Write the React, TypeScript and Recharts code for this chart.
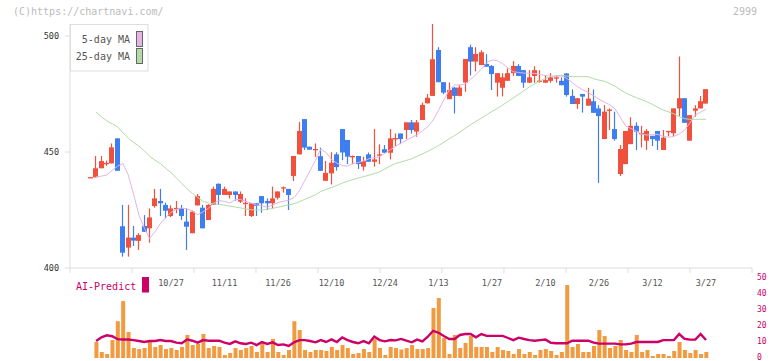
import React from 'react';
import { ComposedChart, Bar, Line, XAxis, YAxis } from 'recharts';

const DATES = [
  '10/3','10/6','10/7','10/8','10/9','10/10','10/14','10/15','10/16','10/17',
  '10/20','10/21','10/22','10/23','10/24','10/27','10/28','10/29','10/30','10/31',
  '11/4','11/5','11/6','11/7','11/10','11/11','11/12','11/13','11/14','11/17',
  '11/18','11/19','11/20','11/21','11/25','11/26','11/27','11/28','12/1','12/2',
  '12/3','12/4','12/5','12/8','12/9','12/10','12/11','12/12','12/15','12/16',
  '12/17','12/18','12/19','12/22','12/23','12/24','12/25','12/26','12/29','12/30',
  '1/5','1/6','1/7','1/8','1/9','1/13','1/14','1/15','1/16','1/19',
  '1/20','1/21','1/22','1/23','1/26','1/27','1/28','1/29','1/30','2/2',
  '2/3','2/4','2/5','2/6','2/9','2/10','2/12','2/13','2/16','2/17',
  '2/18','2/19','2/20','2/24','2/25','2/26','2/27','3/2','3/3','3/4',
  '3/5','3/6','3/9','3/10','3/11','3/12','3/13','3/16','3/17','3/18',
  '3/19','3/23','3/24','3/25','3/26','3/27',
];

const OPEN = [
  439.0, 439.1, 443.0, 445.0, 445.1, 455.9, 418.0, 408.8, 413.1, 411.7,
  418.1, 417.1, 426.7, 428.9, 427.2, 422.4, 425.5, 425.7, 420.0, 415.0,
  427.0, 426.0, 420.7, 427.2, 436.3, 431.5, 431.5, 433.0, 428.6, 427.9,
  422.4, 427.9, 431.0, 428.9, 427.9, 430.3, 434.5, 434.1, 439.7, 449.0,
  464.2, 452.3, 451.0, 448.2, 437.6, 440.8, 449.0, 459.9, 455.2, 448.0,
  448.3, 443.7, 449.0, 445.8, 448.7, 451.2, 449.7, 455.7, 458.0, 459.5,
  462.8, 458.8, 463.8, 471.0, 474.2, 494.0, 480.1, 472.8, 477.8, 474.2,
  480.0, 495.2, 489.0, 487.5, 488.0, 487.1, 479.9, 477.7, 480.7, 484.0,
  487.1, 485.3, 479.9, 482.8, 480.6, 479.9, 480.7, 482.0, 480.7, 483.9,
  474.2, 470.7, 475.0, 470.0, 471.9, 468.8, 455.6, 468.0, 459.9, 440.5,
  444.8, 453.4, 461.3, 458.0, 454.9, 457.0, 459.1, 450.9, 459.0, 458.1,
  468.8, 473.2, 454.9, 467.8, 468.8, 470.9,
];
const HIGH = [
  439.3, 448.3, 448.3, 446.3, 453.7, 455.9, 427.2, 427.2, 418.1, 415.0,
  422.8, 425.7, 434.1, 434.1, 428.2, 427.0, 428.9, 427.2, 425.7, 424.8,
  431.9, 427.2, 427.5, 435.1, 436.5, 435.1, 433.0, 433.0, 433.0, 430.0,
  428.0, 428.0, 431.0, 430.0, 435.1, 433.0, 435.1, 434.1, 448.3, 463.0,
  464.2, 452.3, 453.7, 451.9, 446.1, 449.9, 449.9, 459.9, 455.2, 448.5,
  448.3, 448.0, 449.8, 459.9, 453.3, 453.0, 459.9, 458.0, 458.0, 462.8,
  463.8, 463.8, 471.3, 475.0, 505.2, 495.2, 480.1, 480.0, 478.0, 479.0,
  490.1, 496.3, 495.2, 493.9, 492.2, 487.5, 484.0, 484.0, 486.0, 489.2,
  487.9, 485.3, 485.3, 487.0, 485.3, 483.0, 484.0, 483.0, 482.2, 483.9,
  477.0, 473.2, 475.0, 477.7, 477.0, 470.2, 470.2, 468.8, 467.4, 453.0,
  459.1, 465.0, 462.8, 461.3, 459.9, 457.0, 459.1, 459.5, 459.1, 468.8,
  491.2, 473.2, 465.9, 470.2, 474.1, 477.1,
];
const LOW = [
  439.0, 439.1, 443.0, 444.0, 445.1, 441.9, 404.9, 404.9, 409.5, 407.8,
  415.6, 410.9, 426.0, 422.4, 421.4, 422.0, 423.6, 420.7, 407.8, 415.0,
  427.0, 417.1, 420.7, 427.2, 427.2, 431.5, 430.0, 429.0, 428.0, 422.4,
  422.0, 422.4, 423.8, 425.0, 425.7, 429.5, 432.5, 425.0, 437.5, 449.0,
  450.9, 451.0, 447.9, 441.9, 437.6, 436.0, 442.0, 446.5, 444.8, 444.8,
  442.7, 442.0, 445.8, 443.7, 444.8, 449.7, 446.8, 452.6, 453.4, 455.6,
  458.0, 456.6, 463.8, 471.0, 474.2, 480.1, 475.0, 472.8, 466.6, 474.0,
  476.0, 483.0, 484.8, 487.5, 486.8, 476.7, 473.9, 474.0, 480.7, 482.8,
  482.8, 477.7, 479.9, 479.9, 479.9, 479.9, 479.9, 479.9, 478.8, 473.9,
  470.7, 468.6, 467.0, 470.0, 466.9, 436.7, 455.6, 459.5, 454.9, 439.7,
  444.8, 453.4, 450.9, 452.0, 450.9, 452.6, 450.9, 450.9, 456.8, 456.7,
  465.5, 462.6, 454.9, 465.2, 468.8, 470.9,
];
const CLOSE = [
  439.2, 443.0, 446.1, 445.3, 452.0, 441.9, 406.6, 413.1, 411.8, 414.2,
  415.6, 421.8, 430.0, 427.9, 424.7, 425.7, 425.9, 422.4, 417.8, 424.3,
  431.0, 417.1, 427.2, 434.1, 431.5, 434.1, 433.0, 431.5, 431.9, 428.1,
  427.9, 426.8, 427.9, 427.9, 430.0, 433.0, 434.8, 431.5, 448.3, 459.1,
  451.9, 451.0, 451.3, 441.9, 441.0, 445.4, 443.5, 449.8, 448.0, 448.3,
  444.8, 446.1, 445.8, 446.8, 449.0, 449.7, 455.9, 456.0, 455.6, 462.8,
  459.5, 462.8, 470.3, 473.4, 490.0, 480.1, 475.6, 476.8, 474.2, 477.8,
  490.1, 489.0, 492.3, 493.0, 486.8, 483.6, 484.0, 482.2, 484.0, 487.1,
  482.8, 479.9, 482.2, 485.3, 480.8, 481.0, 482.2, 482.2, 478.8, 474.6,
  470.7, 473.2, 473.9, 473.0, 466.9, 465.5, 467.4, 468.3, 455.6, 451.3,
  459.1, 461.3, 458.8, 458.2, 459.1, 455.6, 454.9, 456.2, 459.1, 468.8,
  473.2, 462.6, 465.9, 468.8, 471.9, 477.1,
];

const MA5 = [
  null, 439.3, 439.6, 440.1, 442.1, 443.9, 445.1, 440.2, 431.8, 422.9,
  417.2, 412.7, 415.6, 419.1, 421.7, 424.0, 425.3, 425.9, 425.5, 424.5,
  423.0, 424.2, 425.8, 428.0, 429.1, 428.7, 428.0, 429.5, 429.5, 428.7,
  428.0, 427.2, 426.7, 426.3, 427.1, 428.2, 428.8, 429.2, 430.4, 433.2,
  437.7, 442.0, 446.4, 451.3, 449.8, 446.7, 445.2, 444.2, 443.9, 445.0,
  445.5, 446.1, 447.1, 447.6, 448.0, 449.5, 451.0, 452.5, 453.9, 455.1,
  456.3, 457.4, 459.1, 460.9, 463.8, 468.0, 472.5, 476.7, 478.9, 478.9,
  479.4, 481.3, 483.4, 485.7, 488.5, 489.7, 489.4, 488.1, 486.3, 484.6,
  484.3, 484.0, 484.0, 483.9, 483.4, 483.0, 482.7, 482.6, 482.8, 481.7,
  479.9, 478.2, 476.8, 475.7, 474.2, 472.7, 471.5, 470.4, 468.6, 464.9,
  461.2, 460.1, 459.0, 457.8, 457.3, 457.6, 457.6, 456.8, 456.4, 456.7,
  457.8, 459.5, 462.5, 466.0, 467.2, 468.5,
];
const MA25 = [
  null, 467.2, 465.1, 463.4, 462.2, 460.9, 458.3, 456.0, 454.1, 452.6,
  450.5, 448.2, 446.5, 445.0, 443.0, 441.1, 438.8, 436.5, 434.1, 432.1,
  430.4, 428.7, 428.1, 427.6, 427.4, 427.1, 426.7, 426.3, 425.9, 425.5,
  425.1, 425.0, 425.0, 425.3, 425.7, 426.2, 426.7, 427.2, 427.7, 428.6,
  429.6, 430.5, 431.6, 433.0, 433.9, 434.7, 435.6, 436.6, 437.4, 438.1,
  438.8, 439.4, 440.0, 440.7, 441.5, 442.7, 444.0, 445.1, 445.7, 446.4,
  447.1, 448.2, 449.2, 450.3, 451.5, 452.8, 454.2, 455.7, 457.1, 458.6,
  460.2, 461.8, 463.2, 464.6, 466.1, 467.5, 468.8, 470.3, 471.8, 473.4,
  474.9, 476.5, 478.1, 479.4, 480.7, 481.7, 482.6, 482.9, 483.1, 482.7,
  482.5, 482.5, 482.5, 482.5, 481.6, 481.0, 480.5, 479.5, 478.4, 476.8,
  475.5, 474.4, 473.4, 472.6, 471.6, 470.5, 469.3, 468.1, 467.3, 466.5,
  465.2, 464.4, 464.1, 464.1, 464.1, 464.1,
];

const VOLUME = [
  null, 10, 3.75, 2.5, 11.25, 23, 35.6, 16.25, 6.25, 5.6,
  6.25, 10, 6.9, 8.1, 5.6, 6.25, 5, 6.9, 14.4, 8.1,
  8.75, 15, 6.25, 7.5, 6.9, 1.9, 3.1, 6.25, 5, 6.25,
  7.5, 3.75, 9.4, 3.75, 11.9, 3.75, 1.9, 5, 23, 17.5,
  5, 3.75, 5, 5, 4.4, 6.9, 5, 8.1, 6.25, 2.5,
  3.1, 5.6, 3.75, 11.9, 6.25, 1.9, 6.9, 6.25, 5.3, 6.2,
  8.1, 5.6, 5.6, 6.25, 31.25, 37.5, 12.5, 2.5, 14.4, 6.25,
  9.4, 13.75, 6.9, 6.9, 6.9, 3.75, 6.9, 5, 4.4, 2.5,
  5.6, 2.5, 3.75, 1.9, 5, 5.6, 4.4, 1.9, 3.75, 45.6,
  6.9, 8.75, 3.75, 3.75, 7.5, 17.5, 13.75, 6.25, 7.5, 11.25,
  5, 3.75, 14.4, 3.75, 5, 1.25, 2.5, 2.5, 1.25, 4.4,
  10, 5, 3.1, 5, 2.5, 3.75,
];
const AI = [
  null, 10.6, 12.9, 14.2, 13.6, 11.8, 11.6, 11.6, 11.2, 10.6,
  10.0, 10.6, 10.6, 11.2, 10.6, 10.6, 9.6, 9.2, 11.6, 10.8,
  9.6, 11.2, 10.8, 10.8, 10.8, 9.6, 8.8, 10.4, 9.2, 8.8,
  9.6, 8.1, 10.0, 8.8, 9.8, 8.1, 8.5, 7.5, 9.8, 11.2,
  11.2, 10.6, 9.8, 11.2, 10.0, 11.6, 10.0, 12.9, 11.2, 10.0,
  9.2, 10.6, 9.2, 13.4, 11.2, 10.4, 11.2, 11.0, 11.9, 10.8,
  9.8, 11.5, 10.4, 13.3, 17.0, 15.8, 13.8, 11.9, 11.9, 14.4,
  15.0, 15.0, 12.9, 15.0, 13.8, 13.8, 13.8, 13.8, 12.5, 11.2,
  12.7, 11.9, 11.2, 10.8, 11.2, 11.5, 9.5, 9.2, 9.2, 9.2,
  10.8, 10.8, 10.8, 10.8, 9.6, 9.0, 9.0, 9.0, 9.0, 8.5,
  8.5, 9.0, 10.0, 10.0, 10.0, 10.0, 10.0, 11.2, 11.2, 11.2,
  15.0, 12.0, 11.5, 11.5, 15.0, 11.2,
];

const LABEL_DATES = ['10/27', '11/11', '11/26', '12/10', '12/24', '1/13', '1/27', '2/10', '2/26', '3/12', '3/27'];
const PRICE_TICKS = [400, 450, 500];
const VOLUME_TICKS = [0, 10, 20, 30, 40, 50];

const MONO = '"DejaVu Sans Mono", monospace';
const RED = '#f0503c';
const BLUE = '#3f7ef0';
const PINK = '#e6b3e6';
const GREEN = '#b3dba8';
const ORANGE = '#f29a40';
const MAGENTA = '#cc0066';
const AXIS = '#dddddd';

const Y_MIN = 400;
const Y_MAX = Math.max(...HIGH);
const X_DOMAIN: [number, number] = [-3.88, 123.6];
const FRAME_TICKS = Array.from({ length: 12 }, (_, k) => X_DOMAIN[0] + (k * (X_DOMAIN[1] - X_DOMAIN[0])) / 11);
const LABEL_TICKS = LABEL_DATES.map((d) => DATES.indexOf(d));

const rows = DATES.map((d, i) => ({
  i,
  date: d,
  o: OPEN[i],
  h: HIGH[i],
  l: LOW[i],
  c: CLOSE[i],
  ma5: MA5[i],
  ma25: MA25[i],
  vol: VOLUME[i],
  ai: AI[i],
}));

const Candle = (props: any) => {
  let { x, y, width, height } = props;
  const payload = props.payload;
  if (!payload || x == null || y == null || height == null) return null;
  if (height < 0) {
    y = y + height;
    height = -height;
  }
  const { o, h, l, c } = payload;
  const k = height / (h - Y_MIN);
  const py = (v: number) => y + (h - v) * k;
  const bx = Math.round(x + width / 2 - 2.5);
  const cx = bx + 2.5;
  const color = c >= o ? RED : BLUE;
  const top = py(Math.max(o, c));
  const bot = py(Math.min(o, c));
  return (
    <g>
      <line x1={cx} x2={cx} y1={py(h)} y2={py(l)} stroke={color} strokeWidth={1.2} />
      <rect x={bx} y={top} width={5} height={Math.max(bot - top, 1.3)} fill={color} />
    </g>
  );
};

const DateTick = (props: any) => {
  const { x, y, payload } = props;
  return (
    <text x={x} y={y + 7.5} textAnchor="middle" fontSize={8.5} fontFamily={MONO} fill="#555">
      {DATES[payload.value]}
    </text>
  );
};

const VolumeTick = (props: any) => {
  const { x, y, payload } = props;
  return (
    <text x={x} y={y + 2} textAnchor="start" fontSize={8} fontFamily={MONO} fill={MAGENTA}>
      {payload.value}
    </text>
  );
};

export default function App() {
  return (
    <div style={{ position: 'absolute', left: 0, top: 0, width: 772, height: 361, background: '#fff', overflow: 'hidden' }}>
      <div style={{ position: 'absolute', left: 0, top: 0 }}>
        <ComposedChart width={772} height={290} data={rows} margin={{ top: 24, right: 20, bottom: 10, left: 0 }}>
          <XAxis
            dataKey="i"
            type="number"
            domain={X_DOMAIN}
            allowDataOverflow
            ticks={FRAME_TICKS}
            interval={0}
            tickFormatter={() => ''}
            stroke={AXIS}
            tickSize={5}
            height={12}
          />
          <YAxis
            type="number"
            domain={[Y_MIN, Y_MAX]}
            allowDataOverflow
            ticks={PRICE_TICKS}
            interval={0}
            width={70}
            stroke={AXIS}
            tickSize={5}
            tickMargin={6}
            tick={{ fill: '#333', fontSize: 8.5, fontFamily: MONO }}
          />
          <Line dataKey="ma25" stroke={GREEN} strokeWidth={1} dot={false} isAnimationActive={false} />
          <Line dataKey="ma5" stroke={PINK} strokeWidth={1} dot={false} isAnimationActive={false} />
          <Bar dataKey={(d: any) => [Y_MIN, d.h]} barSize={5} shape={(p: any) => <Candle {...p} />} isAnimationActive={false} />
        </ComposedChart>
      </div>
      <div style={{ position: 'absolute', left: 0, top: 260 }}>
        <ComposedChart width={772} height={101} data={rows} margin={{ top: 8, right: 0, bottom: 3, left: 70 }}>
          <XAxis
            orientation="top"
            dataKey="i"
            type="number"
            domain={X_DOMAIN}
            allowDataOverflow
            ticks={LABEL_TICKS}
            interval={0}
            height={10}
            axisLine={false}
            tickLine={false}
            tickSize={0}
            tickMargin={0}
            tick={(p: any) => <DateTick {...p} />}
          />
          <YAxis
            orientation="right"
            type="number"
            domain={[0, 50]}
            allowDataOverflow
            ticks={VOLUME_TICKS}
            interval={0}
            width={20}
            axisLine={false}
            tickLine={false}
            tickSize={0}
            tickMargin={5}
            tick={(p: any) => <VolumeTick {...p} />}
          />
          <Bar dataKey="vol" fill={ORANGE} barSize={4} isAnimationActive={false} />
          <Line dataKey="ai" stroke={MAGENTA} strokeWidth={2.4} dot={false} isAnimationActive={false} />
        </ComposedChart>
      </div>
      <svg width={772} height={361} style={{ position: 'absolute', left: 0, top: 0, pointerEvents: 'none' }}>
        <text x={13} y={15} fontSize={10} fontFamily={MONO} fill="#bbb">(C)https://chartnavi.com/</text>
        <text x={757} y={15} fontSize={10} fontFamily={MONO} fill="#bbb" textAnchor="end">2999</text>
        <rect x={70.5} y={24.5} width={77.5} height={46.5} fill="#fff" stroke={AXIS} />
        <text x={130} y={43} fontSize={10} fontFamily={MONO} fill="#555" textAnchor="end">5-day MA</text>
        <text x={130} y={59.7} fontSize={10} fontFamily={MONO} fill="#555" textAnchor="end">25-day MA</text>
        <rect x={136.5} y={31.5} width={6} height={15} fill={PINK} stroke="#666" />
        <rect x={136.5} y={48.5} width={6} height={15} fill={GREEN} stroke="#666" />
        <text x={76} y={290} fontSize={10} fontFamily={MONO} fill={MAGENTA}>AI-Predict</text>
        <rect x={142} y={277} width={7} height={15.5} fill={MAGENTA} />
      </svg>
    </div>
  );
}
